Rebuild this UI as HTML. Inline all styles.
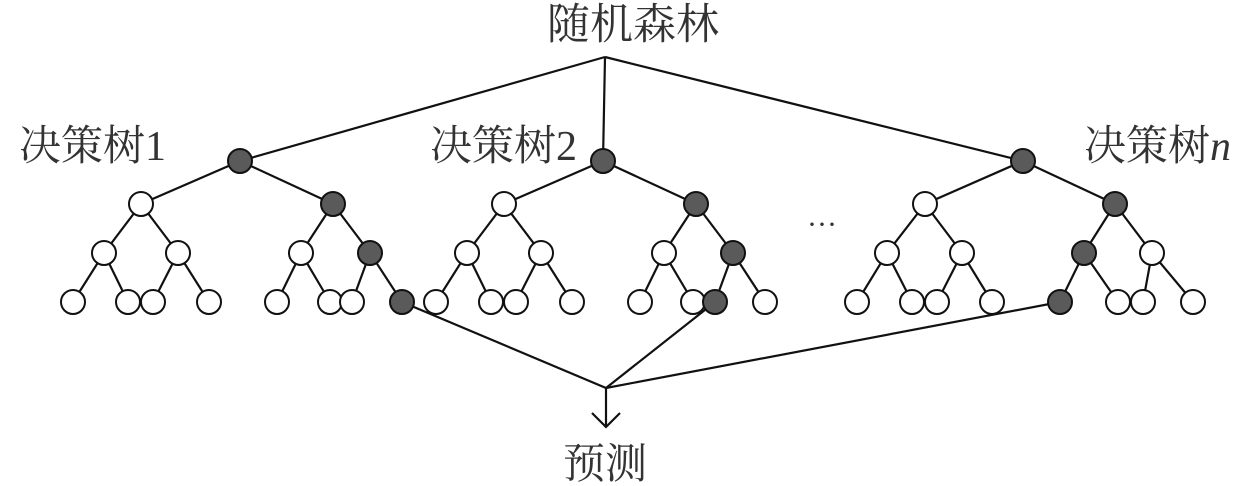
<!DOCTYPE html>
<html><head><meta charset="utf-8"><style>
html,body{margin:0;padding:0;background:#fff;}
svg{display:block}
text{font-family:"Liberation Serif","Noto Serif CJK SC","Noto Sans CJK SC",serif;fill:#333}
</style></head><body>
<svg width="1257" height="486" viewBox="0 0 1257 486" xmlns="http://www.w3.org/2000/svg">
<g stroke="#111" stroke-width="2.2" fill="none">
<line x1="605" y1="57" x2="240" y2="161"/>
<line x1="605" y1="57" x2="603" y2="161"/>
<line x1="605" y1="57" x2="1023" y2="161"/>
<path d="M240 161L141 204M240 161L333 204M141 204L104 253M141 204L178 253M333 204L301 253M333 204L370 253M104 253L73 302M104 253L128 302M178 253L153 302M178 253L209 302M301 253L277 302M301 253L330 302M370 253L352 302M370 253L402 302"/>
<path d="M603 161L504 204M603 161L696 204M504 204L467 253M504 204L541 253M696 204L664 253M696 204L733 253M467 253L436 302M467 253L491 302M541 253L516 302M541 253L572 302M664 253L640 302M664 253L693 302M733 253L715 302M733 253L765 302"/>
<path d="M1023 161L925 204M1023 161L1115 204M925 204L887 253M925 204L962 253M1115 204L1084 253M1115 204L1152 253M887 253L857 302M887 253L912 302M962 253L937 302M962 253L992 302M1084 253L1060 302M1084 253L1118 302M1152 253L1143 302M1152 253L1193 302"/>
<line x1="402" y1="302" x2="606" y2="388"/>
<line x1="715" y1="302" x2="606" y2="388"/>
<line x1="1060" y1="302" x2="606" y2="388"/>
<line x1="606" y1="388" x2="606" y2="427"/>
<path d="M592 413L606 427L620 413"/>
</g>
<g stroke="#111" stroke-width="2" fill="#fff">
<circle cx="141" cy="204" r="12"/><circle cx="104" cy="253" r="12"/><circle cx="178" cy="253" r="12"/><circle cx="301" cy="253" r="12"/>
<circle cx="73" cy="302" r="12"/><circle cx="128" cy="302" r="12"/><circle cx="153" cy="302" r="12"/><circle cx="209" cy="302" r="12"/><circle cx="277" cy="302" r="12"/><circle cx="330" cy="302" r="12"/><circle cx="352" cy="302" r="12"/>
<circle cx="504" cy="204" r="12"/><circle cx="467" cy="253" r="12"/><circle cx="541" cy="253" r="12"/><circle cx="664" cy="253" r="12"/>
<circle cx="436" cy="302" r="12"/><circle cx="491" cy="302" r="12"/><circle cx="516" cy="302" r="12"/><circle cx="572" cy="302" r="12"/><circle cx="640" cy="302" r="12"/><circle cx="693" cy="302" r="12"/><circle cx="765" cy="302" r="12"/>
<circle cx="925" cy="204" r="12"/><circle cx="887" cy="253" r="12"/><circle cx="962" cy="253" r="12"/><circle cx="1152" cy="253" r="12"/>
<circle cx="857" cy="302" r="12"/><circle cx="912" cy="302" r="12"/><circle cx="937" cy="302" r="12"/><circle cx="992" cy="302" r="12"/><circle cx="1118" cy="302" r="12"/><circle cx="1143" cy="302" r="12"/><circle cx="1193" cy="302" r="12"/>
</g>
<g stroke="#111" stroke-width="2" fill="#5a5a5a">
<circle cx="240" cy="161" r="12"/><circle cx="333" cy="204" r="12"/><circle cx="370" cy="253" r="12"/><circle cx="402" cy="302" r="12"/>
<circle cx="603" cy="161" r="12"/><circle cx="696" cy="204" r="12"/><circle cx="733" cy="253" r="12"/><circle cx="715" cy="302" r="12"/>
<circle cx="1023" cy="161" r="12"/><circle cx="1115" cy="204" r="12"/><circle cx="1084" cy="253" r="12"/><circle cx="1060" cy="302" r="12"/>
</g>
<text x="633" y="39" font-size="43" text-anchor="middle">随机森林</text>
<text x="19" y="160" font-size="42">决策树1</text>
<text x="430" y="160" font-size="42">决策树2</text>
<text x="1084" y="160" font-size="42">决策树<tspan font-style="italic">n</tspan></text>
<text x="822" y="234" font-size="30" text-anchor="middle">···</text>
<text x="605" y="478" font-size="42" text-anchor="middle">预测</text>
</svg>
</body></html>
